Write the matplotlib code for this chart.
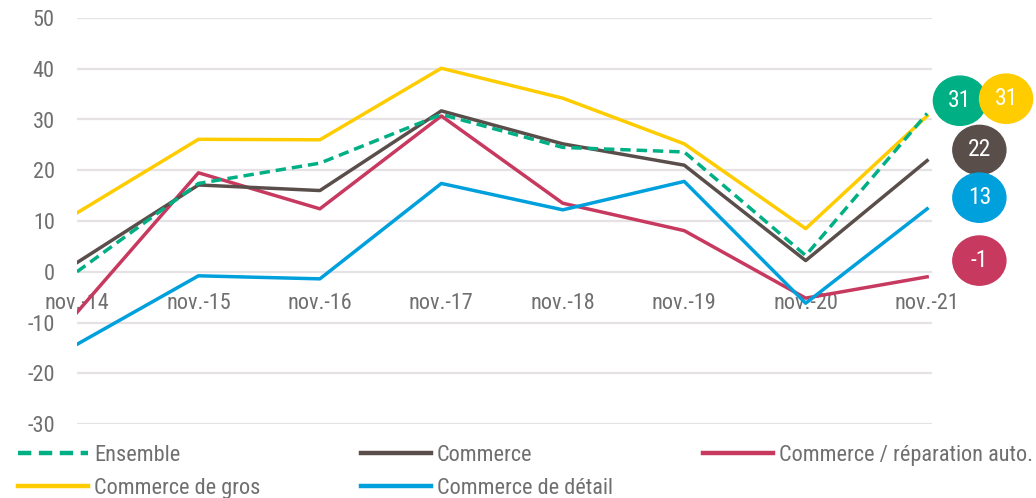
import matplotlib
matplotlib.use("Agg")
import matplotlib.pyplot as plt
from matplotlib.patches import Ellipse

# data
periods = ["nov.-14", "nov.-15", "nov.-16", "nov.-17", "nov.-18", "nov.-19", "nov.-20", "nov.-21"]
ensemble = [0.0, 17.4, 21.4, 31.0, 24.5, 23.6, 3.2, 31.2]
commerce = [1.8, 17.1, 16.0, 31.7, 25.2, 21.0, 2.2, 21.9]
auto = [-8.0, 19.5, 12.4, 30.7, 13.5, 8.1, -5.2, -1.0]
gros = [11.6, 26.1, 26.0, 40.1, 34.2, 25.2, 8.5, 30.7]
detail = [-14.3, -0.8, -1.4, 17.4, 12.2, 17.8, -6.2, 12.4]
badge_labels = ["31", "31", "22", "13", "-1"]

GREEN = "#00B084"
BROWN = "#5A4E4B"
RED = "#C7395F"
YELLOW = "#FFCC00"
BLUE = "#00A0DD"
GREY = "#6F6F6F"

plt.rcParams["font.family"] = ["Roboto Condensed", "Roboto", "DejaVu Sans"]
plt.rcParams["axes.unicode_minus"] = False

W, H = 1036, 498
fig = plt.figure(figsize=(W / 100, H / 100), dpi=100)
ax = fig.add_axes([77 / W, 1 - 424 / H, (932 - 77) / W, (424 - 18) / H])

x = list(range(len(periods)))
lw = 2.5
l_ens, = ax.plot(x, ensemble, color=GREEN, lw=lw, ls=(0, (3.0, 1.7)), zorder=6, label="Ensemble")
l_com, = ax.plot(x, commerce, color=BROWN, lw=lw, zorder=5, label="Commerce")
l_aut, = ax.plot(x, auto, color=RED, lw=lw, zorder=4, label="Commerce / réparation auto.")
l_gro, = ax.plot(x, gros, color=YELLOW, lw=lw, zorder=3, label="Commerce de gros")
l_det, = ax.plot(x, detail, color=BLUE, lw=lw, zorder=4, label="Commerce de détail")

ax.set_xlim(0, 7.04)
ax.set_ylim(-30, 50)
ax.set_yticks(range(-30, 51, 10))
ax.set_xticks(x)
ax.set_xticklabels(periods)
ax.grid(axis="y", color="#E6E1E4", lw=1.6, zorder=0)
ax.set_axisbelow(True)
for s in ax.spines.values():
    s.set_visible(False)
ax.spines["bottom"].set_position(("data", 0))
ax.tick_params(axis="both", length=0, labelsize=16, colors=GREY)
ax.tick_params(axis="y", pad=16)
ax.tick_params(axis="x", pad=15)

# value badges at the right
badge_colors = [GREEN, YELLOW, BROWN, BLUE, RED]
badge_pos = [(7.27, 33.7), (7.65, 34.1), (7.43, 24.0), (7.43, 14.6), (7.43, 2.2)]
for lab, c, (bx, by) in zip(badge_labels, badge_colors, badge_pos):
    ax.add_patch(Ellipse((bx, by), 0.437, 9.7, color=c, clip_on=False, zorder=10))
    ax.text(bx, by, lab, color="white", fontsize=17, ha="center", va="center",
            clip_on=False, zorder=11)

# legend, three columns placed by hand
legend_kw = dict(loc="upper left", frameon=False, fontsize=16, labelcolor=GREY,
                 handlelength=3.15, handletextpad=0.27, borderpad=0,
                 borderaxespad=0, labelspacing=0.52)
top = 1 - 445 / H
leg1 = fig.legend(handles=[l_ens, l_gro], bbox_to_anchor=(18 / W, top), **legend_kw)
leg2 = fig.legend(handles=[l_com, l_det], bbox_to_anchor=(361 / W, top), **legend_kw)
leg3 = fig.legend(handles=[l_aut], bbox_to_anchor=(703 / W, top), **legend_kw)
for leg in (leg1, leg2, leg3):
    for ln in leg.get_lines():
        ln.set_linewidth(3.2)

fig.savefig("out.png", dpi=100)
